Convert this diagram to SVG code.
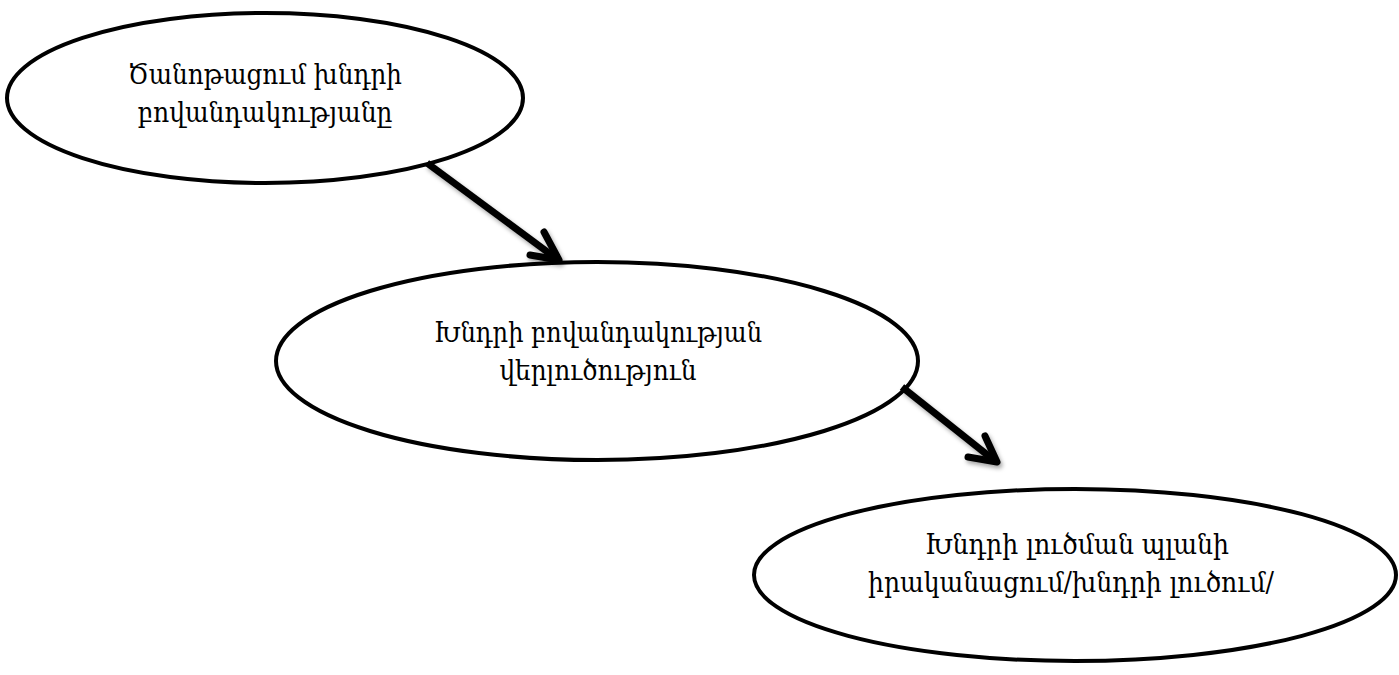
<svg xmlns="http://www.w3.org/2000/svg" width="1399" height="675" viewBox="0 0 1399 675">
<style>
.node ellipse{fill:#fff;stroke:#000;stroke-width:4}
.lbl{font-family:"DejaVu Serif","DejaVu Sans",serif;font-size:27px;fill:#000;text-anchor:middle}
.shaft{stroke:#000;stroke-width:7;fill:none;stroke-linecap:butt}
.head{stroke:#000;stroke-width:7;fill:none;stroke-linecap:round;stroke-linejoin:round}
</style>
<defs>
<filter id="sh" x="-20%" y="-20%" width="140%" height="140%">
<feDropShadow dx="2" dy="3" stdDeviation="2" flood-color="#000" flood-opacity="0.35"/>
</filter>
</defs>
<rect width="1399" height="675" fill="#fff"/>
<g id="n1" class="node">
<ellipse cx="265" cy="98" rx="258" ry="85"/>
<text class="lbl" x="265" y="84" textLength="274" lengthAdjust="spacingAndGlyphs">Ծանոթացում խնդրի</text>
<text class="lbl" x="265" y="122" textLength="255" lengthAdjust="spacingAndGlyphs">բովանդակությանը</text>
</g>
<g id="n2" class="node">
<ellipse cx="597" cy="361" rx="321" ry="99"/>
<text class="lbl" x="598" y="342" textLength="328" lengthAdjust="spacingAndGlyphs">Խնդրի բովանդակության</text>
<text class="lbl" x="598" y="380" textLength="197" lengthAdjust="spacingAndGlyphs">վերլուծություն</text>
</g>
<g id="n3" class="node">
<ellipse cx="1075" cy="575" rx="321" ry="86"/>
<text class="lbl" x="1077" y="554" textLength="304" lengthAdjust="spacingAndGlyphs">Խնդրի լուծման պլանի</text>
<text class="lbl" x="1071" y="592" textLength="406" lengthAdjust="spacingAndGlyphs">իրականացում/խնդրի լուծում/</text>
</g>
<g id="connectors" filter="url(#sh)">
<line class="shaft" x1="427" y1="163" x2="557" y2="259"/>
<polyline class="head" points="544,232 559,260 530,255"/>
<line class="shaft" x1="902" y1="387" x2="995" y2="461"/>
<polyline class="head" points="985,436 997,462 968,457"/>
</g>
</svg>
